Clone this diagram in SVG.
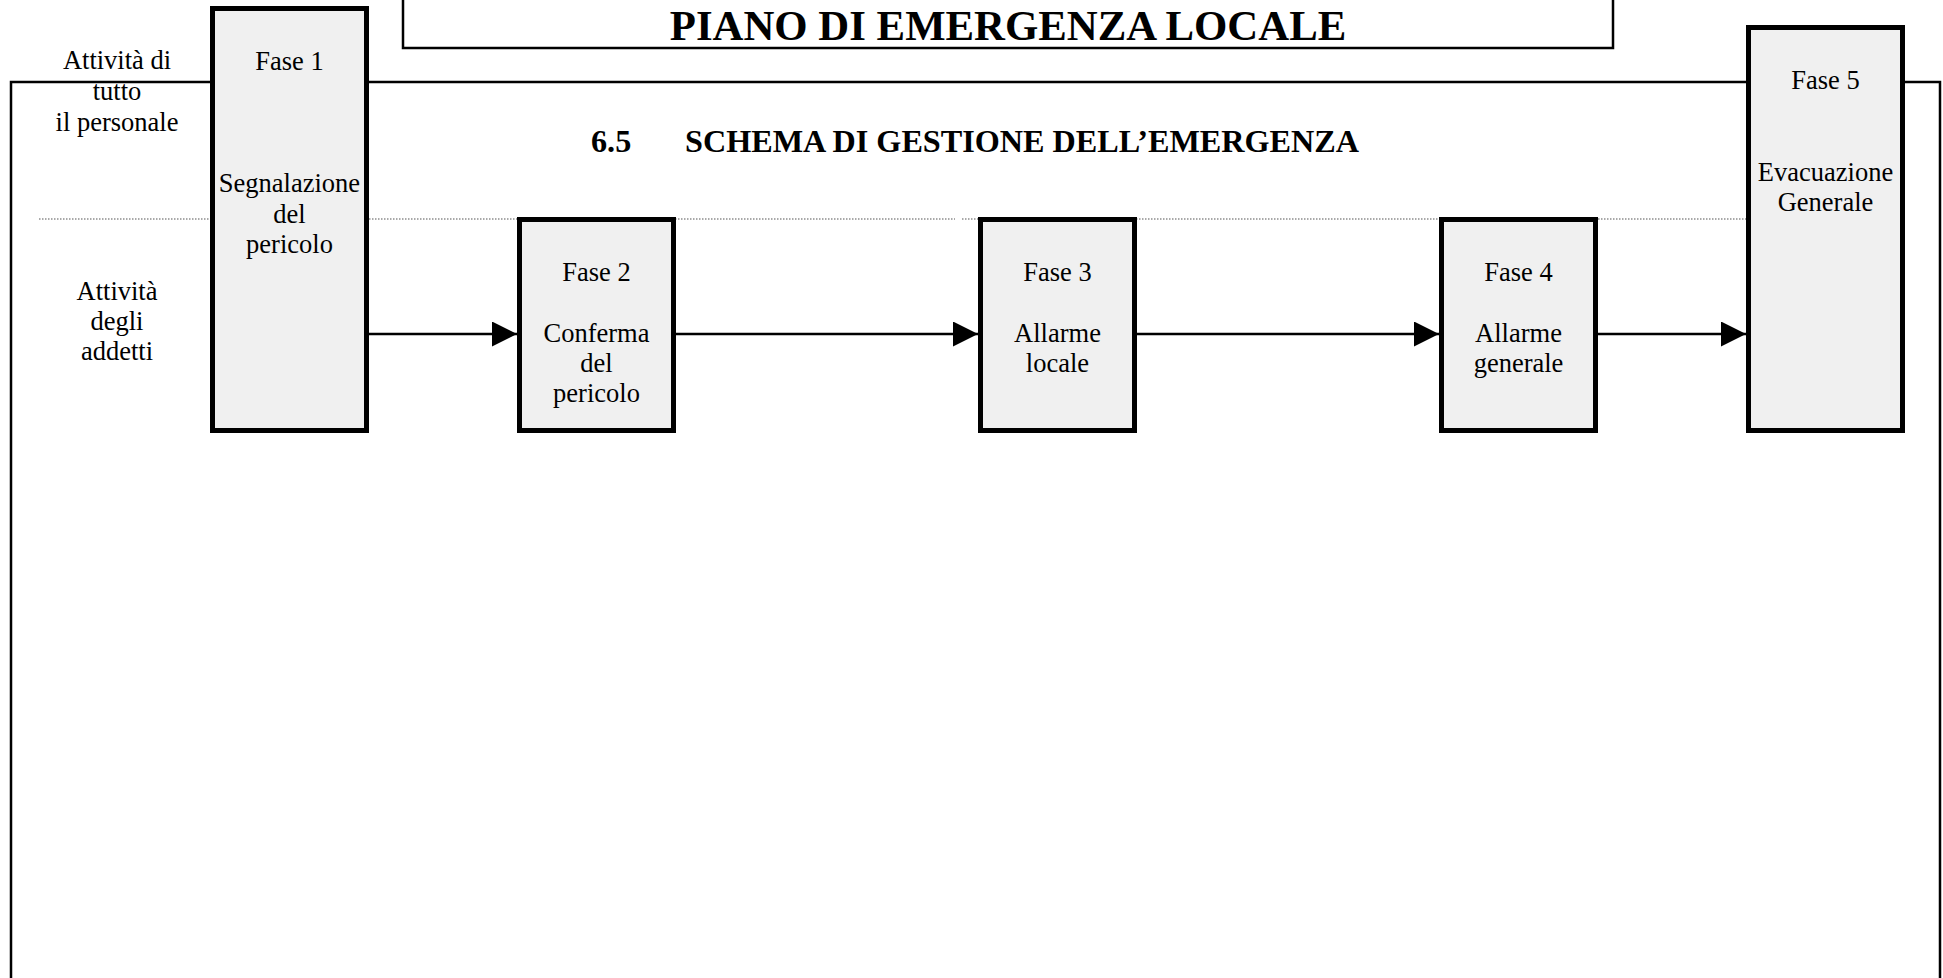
<svg xmlns="http://www.w3.org/2000/svg" width="1943" height="978" viewBox="0 0 1943 978">
<style>
  .t { font-family: "Liberation Serif", "Times New Roman", serif; font-size: 26.5px; fill: #000; text-anchor: middle; }
  .b { font-family: "Liberation Serif", "Times New Roman", serif; font-weight: bold; fill: #000; }
  .box { fill: #f0f0f0; stroke: #000; stroke-width: 5; }
  .frame { fill: none; stroke: #000; stroke-width: 2.5; }
  .dot { fill: none; stroke: #555; stroke-width: 1.2; stroke-dasharray: 1.5 1.5; }
  .conn { fill: none; stroke: #000; stroke-width: 2.5; }
</style>
<defs>
  <marker id="arr" markerUnits="userSpaceOnUse" markerWidth="26" markerHeight="26" refX="25" refY="12.5" orient="auto">
    <path d="M0,0 L25,12.5 L0,25 Z" fill="#000"/>
  </marker>
</defs>
<rect width="1943" height="978" fill="#fff"/>

<g id="frame">
  <path class="frame" d="M11,990 L11,82 L1940,82 L1940,990"/>
  <rect class="frame" x="403" y="-10" width="1210" height="58"/>
  <path class="dot" d="M39,219 L955,219 M962,219 L1746,219"/>
</g>

<g id="titles">
  <text class="b" x="1008" y="40" font-size="42.8" text-anchor="middle">PIANO DI EMERGENZA LOCALE</text>
  <text class="b" x="591" y="152" font-size="32.2">6.5</text>
  <text class="b" x="685" y="152" font-size="32.2">SCHEMA DI GESTIONE DELL’EMERGENZA</text>
</g>

<g id="lane-labels">
  <text class="t" x="117" y="69">Attività di</text>
  <text class="t" x="117" y="100">tutto</text>
  <text class="t" x="117" y="131">il personale</text>
  <text class="t" x="117" y="300">Attività</text>
  <text class="t" x="117" y="330">degli</text>
  <text class="t" x="117" y="360">addetti</text>
</g>

<g id="connectors">
  <line class="conn" x1="369" y1="334" x2="517" y2="334" marker-end="url(#arr)"/>
  <line class="conn" x1="676" y1="334" x2="978" y2="334" marker-end="url(#arr)"/>
  <line class="conn" x1="1137" y1="334" x2="1439" y2="334" marker-end="url(#arr)"/>
  <line class="conn" x1="1598" y1="334" x2="1746" y2="334" marker-end="url(#arr)"/>
</g>

<g id="fase1">
  <rect class="box" x="212.5" y="8.5" width="154" height="422"/>
  <text class="t" x="289.5" y="70">Fase 1</text>
  <text class="t" x="289.5" y="192">Segnalazione</text>
  <text class="t" x="289.5" y="223">del</text>
  <text class="t" x="289.5" y="253">pericolo</text>
</g>

<g id="fase2">
  <rect class="box" x="519.5" y="219.5" width="154" height="211"/>
  <text class="t" x="596.5" y="281">Fase 2</text>
  <text class="t" x="596.5" y="342">Conferma</text>
  <text class="t" x="596.5" y="372">del</text>
  <text class="t" x="596.5" y="402">pericolo</text>
</g>

<g id="fase3">
  <rect class="box" x="980.5" y="219.5" width="154" height="211"/>
  <text class="t" x="1057.5" y="281">Fase 3</text>
  <text class="t" x="1057.5" y="342">Allarme</text>
  <text class="t" x="1057.5" y="372">locale</text>
</g>

<g id="fase4">
  <rect class="box" x="1441.5" y="219.5" width="154" height="211"/>
  <text class="t" x="1518.5" y="281">Fase 4</text>
  <text class="t" x="1518.5" y="342">Allarme</text>
  <text class="t" x="1518.5" y="372">generale</text>
</g>

<g id="fase5">
  <rect class="box" x="1748.5" y="27.5" width="154" height="403"/>
  <text class="t" x="1825.5" y="89">Fase 5</text>
  <text class="t" x="1825.5" y="181">Evacuazione</text>
  <text class="t" x="1825.5" y="211">Generale</text>
</g>
</svg>
